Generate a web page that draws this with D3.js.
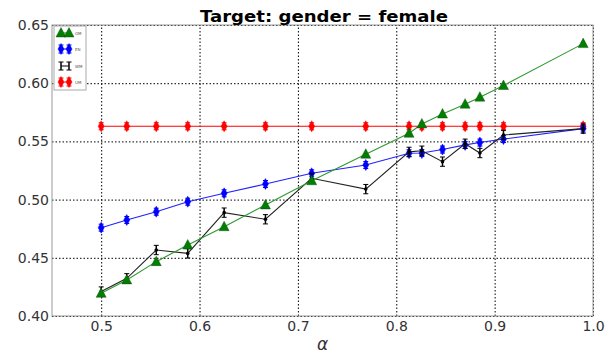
<!DOCTYPE html>
<html>
<head>
<meta charset="utf-8">
<script src="https://cdn.jsdelivr.net/npm/d3@7"></script>
<style>
  body { margin: 0; background: #fff; }
  text { font-family: "DejaVu Sans", sans-serif; }
</style>
</head>
<body>
<svg id="chart"></svg>
<script>
// alpha values on the x axis
const alphas = [0.5, 0.526, 0.556, 0.588, 0.625, 0.667, 0.714, 0.769, 0.813, 0.826, 0.847, 0.870, 0.885, 0.909, 0.99];

const seriesNames = ['GM', 'EN', 'WM', 'UM'];
const greenVals = [0.4195, 0.431, 0.4467, 0.461, 0.4767, 0.4954, 0.5162, 0.539, 0.557, 0.565, 0.5735, 0.582, 0.588, 0.598, 0.634];
const blueVals = [0.4759, 0.4825, 0.4896, 0.4982, 0.5054, 0.5134, 0.5226, 0.5297, 0.5398, 0.540, 0.543, 0.547, 0.549, 0.552, 0.561];
const blackVals = [0.421, 0.4324, 0.4567, 0.4538, 0.4888, 0.4831, 0.5183, 0.509, 0.541, 0.542, 0.5326, 0.548, 0.540, 0.5555, 0.561];
const redVals = [0.563, 0.563, 0.563, 0.563, 0.563, 0.563, 0.563, 0.563, 0.563, 0.563, 0.563, 0.563, 0.563, 0.563, 0.563];
const blueErr = [0.003, 0.003, 0.003, 0.003, 0.003, 0.003, 0.003, 0.003, 0.003, 0.003, 0.003, 0.003, 0.003, 0.003, 0.003];
const blackErr = [0.004, 0.004, 0.004, 0.004, 0.004, 0.004, 0.004, 0.004, 0.004, 0.004, 0.004, 0.004, 0.004, 0.004, 0.004];
const redErr = [0.003, 0.003, 0.003, 0.003, 0.003, 0.003, 0.003, 0.003, 0.003, 0.003, 0.003, 0.003, 0.003, 0.003, 0.003];

const xTicks = [0.5, 0.6, 0.7, 0.8, 0.9, 1.0];
const yTicks = [0.40, 0.45, 0.50, 0.55, 0.60, 0.65];

const width = 605, height = 355;
const margin = {top: 25, right: 12, bottom: 39, left: 52};

const svg = d3.select('#chart').attr('width', width).attr('height', height);

const x = d3.scaleLinear().domain([0.45, 1.0]).range([margin.left, width - margin.right]);
const y = d3.scaleLinear().domain([0.40, 0.65]).range([height - margin.bottom, margin.top]);

// grid
svg.append('g')
    .attr('transform', `translate(0,${height - margin.bottom})`)
    .call(d3.axisBottom(x).tickValues(xTicks).tickSize(-(height - margin.top - margin.bottom)).tickFormat(''))
    .call(g => g.select('.domain').remove())
    .call(g => g.selectAll('line').attr('stroke', '#000').attr('stroke-dasharray', '1.5,2').attr('stroke-width', 1));
svg.append('g')
    .attr('transform', `translate(${margin.left},0)`)
    .call(d3.axisLeft(y).tickValues(yTicks).tickSize(-(width - margin.left - margin.right)).tickFormat(''))
    .call(g => g.select('.domain').remove())
    .call(g => g.selectAll('line').attr('stroke', '#000').attr('stroke-dasharray', '1.5,2').attr('stroke-width', 1));

// frame
svg.append('rect')
    .attr('x', margin.left).attr('y', margin.top)
    .attr('width', width - margin.left - margin.right)
    .attr('height', height - margin.top - margin.bottom)
    .attr('fill', 'none').attr('stroke', '#999').attr('stroke-width', 1);

// tick labels
svg.append('g')
    .attr('transform', `translate(0,${height - margin.bottom})`)
    .call(d3.axisBottom(x).tickValues(xTicks).tickSize(0).tickPadding(5).tickFormat(d3.format('.1f')))
    .call(g => g.select('.domain').remove())
    .call(g => g.selectAll('text').attr('font-size', 14).attr('fill', '#333').attr('font-family', 'DejaVu Sans'));
svg.append('g')
    .attr('transform', `translate(${margin.left},0)`)
    .call(d3.axisLeft(y).tickValues(yTicks).tickSize(0).tickPadding(3).tickFormat(d3.format('.2f')))
    .call(g => g.select('.domain').remove())
    .call(g => g.selectAll('text').attr('font-size', 14).attr('fill', '#333').attr('font-family', 'DejaVu Sans'));

// title and axis label
svg.append('text')
    .attr('x', 200)
    .attr('y', 22)
    .attr('font-size', 15).attr('font-weight', 'bold')
    .attr('textLength', 248).attr('lengthAdjust', 'spacingAndGlyphs')
    .text('Target: gender = female');
svg.append('text')
    .attr('x', (margin.left + width - margin.right) / 2)
    .attr('y', 350)
    .attr('text-anchor', 'middle')
    .attr('font-size', 17).attr('font-style', 'italic')
    .attr('font-family', 'DejaVu Serif')
    .attr('fill', '#333')
    .text('α');

const line = d3.line().x(d => x(d[0])).y(d => y(d[1]));

function triangle(g, cx, cy, color) {
    g.append('path')
        .attr('d', `M${cx},${cy - 5.5}L${cx + 5},${cy + 4}L${cx - 5},${cy + 4}Z`)
        .attr('fill', color).attr('stroke', '#0a3a0a').attr('stroke-width', 0.4);
}

function diamond(g, cx, cy, color) {
    g.append('path')
        .attr('d', `M${cx},${cy - 5.5}L${cx + 3},${cy}L${cx},${cy + 5.5}L${cx - 3},${cy}Z`)
        .attr('fill', color).attr('stroke', color).attr('stroke-width', 0.5);
}

function errBar(g, cx, cy0, cy1, color) {
    g.append('line').attr('x1', cx).attr('x2', cx).attr('y1', cy0).attr('y2', cy1)
        .attr('stroke', color).attr('stroke-width', 1.5);
    [cy0, cy1].forEach(cy => g.append('line')
        .attr('x1', cx - 2.5).attr('x2', cx + 2.5).attr('y1', cy).attr('y2', cy)
        .attr('stroke', color).attr('stroke-width', 1));
}

function drawSeries(vals, errs, color, lineColor, marker) {
    let pts = alphas.map((a, i) => [a, vals[i]]);
    let g = svg.append('g');
    g.append('path').attr('d', line(pts)).attr('fill', 'none')
        .attr('stroke', lineColor).attr('stroke-width', 1.1);
    pts.forEach((p, i) => {
        let cx = x(p[0]), cy = y(p[1]);
        if (errs) errBar(g, cx, y(p[1] - errs[i]), y(p[1] + errs[i]), color);
        if (marker === 'tri') triangle(g, cx, cy, color);
        else if (marker === 'dia') diamond(g, cx, cy, color);
        else g.append('circle').attr('cx', cx).attr('cy', cy).attr('r', 1.8).attr('fill', color);
    });
}

drawSeries(redVals, redErr, '#ff0000', '#ff0000', 'dia');
drawSeries(blueVals, blueErr, '#0000ff', '#2020ff', 'dia');
drawSeries(blackVals, blackErr, '#000', '#222', 'dot');
drawSeries(greenVals, null, '#008000', '#2e9a2e', 'tri');

// legend
const legend = svg.append('g');
legend.append('rect').attr('x', 54).attr('y', 26).attr('width', 32).attr('height', 64)
    .attr('fill', '#fff').attr('stroke', '#aaa').attr('stroke-width', 1);
const legendColors = ['#008000', '#0000ff', '#000', '#ff0000'];
const legendMarkers = ['tri', 'dia', 'dot', 'dia'];
const legendRows = [33, 49, 66, 82];
seriesNames.forEach((name, i) => {
    let ly = legendRows[i];
    [61, 69].forEach(lx => {
        if (legendMarkers[i] === 'tri') triangle(legend, lx, ly, legendColors[i]);
        else {
            errBar(legend, lx, ly - 4, ly + 4, legendColors[i]);
            if (legendMarkers[i] === 'dia') diamond(legend, lx, ly, legendColors[i]);
        }
    });
    legend.append('line').attr('x1', 61).attr('x2', 69).attr('y1', ly).attr('y2', ly)
        .attr('stroke', legendColors[i]).attr('stroke-width', 1);
    legend.append('text').attr('x', 75).attr('y', ly + 1.5)
        .attr('font-size', 4).attr('fill', '#555').text(name);
});
</script>
</body>
</html>
